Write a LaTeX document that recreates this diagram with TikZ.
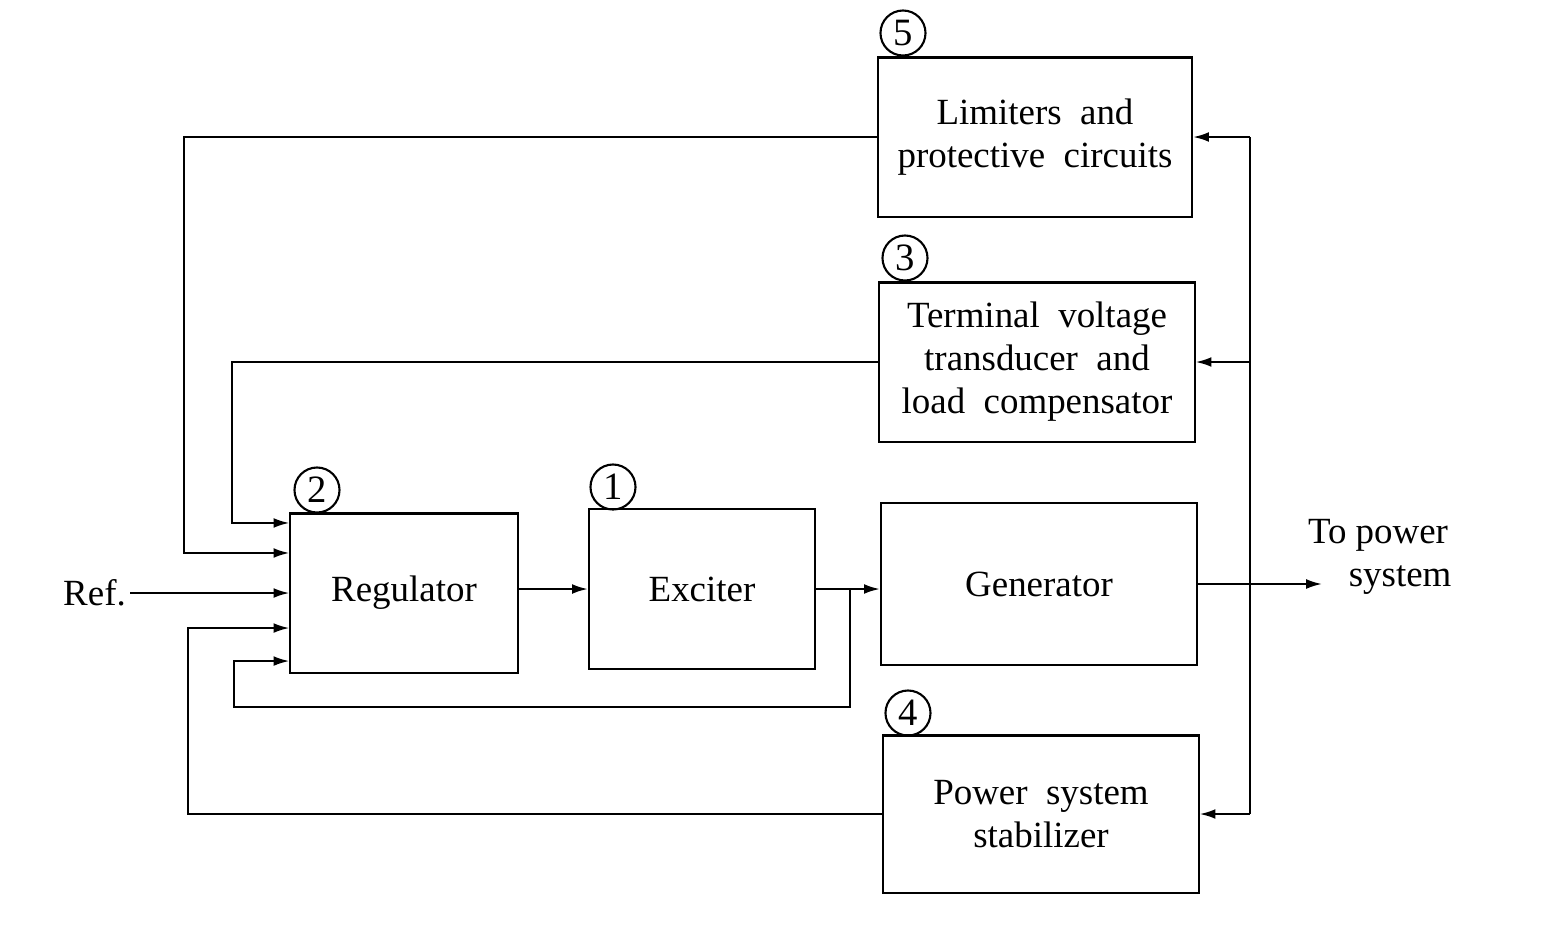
\documentclass[tikz,border=0pt]{standalone}
\usepackage{fontspec}
\setmainfont{Liberation Serif}
\usetikzlibrary{arrows.meta}
\begin{document}
\begin{tikzpicture}[x=0.01cm,y=-0.01cm,
  blk/.style={draw,line width=0.6pt,inner sep=0pt,align=center,font=\fontsize{10.5}{12.2}\selectfont},
  lbl/.style={align=center,font=\fontsize{10.5}{12.2}\selectfont},
  num/.style={draw,circle,line width=0.6pt,inner sep=0pt,minimum size=4.5mm,font=\fontsize{11}{12}\selectfont},
  conn/.style={line width=0.6pt},
  arr/.style={conn,-{Latex[length=4.5pt,width=2.8pt]}}]
\useasboundingbox (0,0) rectangle (1568,944);
% blocks
\node[blk,minimum width=3.14cm,minimum height=1.59cm] (lim) at (1035,137) {Limiters\ \ and\\protective\ \ circuits};
\node[blk,minimum width=3.15cm,minimum height=1.59cm] (term) at (1037,362) {Terminal\ \ voltage\\transducer\ \ and\\load\ \ compensator};
\node[blk,minimum width=2.27cm,minimum height=1.59cm] (reg) at (404,593) {Regulator};
\node[blk,minimum width=2.26cm,minimum height=1.60cm] (exc) at (702,589) {Exciter};
\node[blk,minimum width=3.16cm,minimum height=1.62cm] (gen) at (1039,584) {Generator};
\node[blk,minimum width=3.15cm,minimum height=1.57cm] (pss) at (1041,814) {Power\ \ system\\stabilizer};
% circled numbers
\node[num] (n5) at (903,33) {5};
\node[num] (n3) at (905,258) {3};
\node[num] (n2) at (317,490) {2};
\node[num] (n1) at (613,487) {1};
\node[num] (n4) at (908,713) {4};
% labels
\node[lbl,anchor=east,inner sep=1pt] (ref) at (130,593) {Ref.};
\node[lbl] (tps) at (1378,557) {To power\\\hspace*{1.2em}system};
% helper coordinates
\coordinate (rin1) at ([yshift=7.0mm]reg.west);
\coordinate (rin2) at ([yshift=4.0mm]reg.west);
\coordinate (rin4) at ([yshift=-3.5mm]reg.west);
\coordinate (rin5) at ([yshift=-6.8mm]reg.west);
\coordinate (xA) at (184,0);
\coordinate (xB) at (232,0);
\coordinate (xC) at (188,0);
\coordinate (xD) at (850,0);
\coordinate (xE) at (234,0);
\coordinate (bot) at (0,707);
\coordinate (bus) at (1250,0);
\coordinate (outx) at (1322,0);
% connectors into regulator
\draw[arr] (lim.west) -| (xA |- rin2) -- (rin2);
\draw[arr] (term.west) -| (xB |- rin1) -- (rin1);
\draw[arr] (pss.west) -| (xC |- rin4) -- (rin4);
\draw[arr] (ref.east) -- (ref.east -| reg.west);
% forward path
\draw[arr] (reg.east |- exc.west) -- (exc.west);
\draw[arr] (exc.east) -- (exc.east -| gen.west);
\draw[arr] (gen.east) -- (gen.east -| outx);
% exciter output feedback
\draw[arr] (xD |- exc.east) -- (xD |- bot) -- (xE |- bot) -- (xE |- rin5) -- (rin5);
% bus to limiters, transducer, stabilizer
\draw[conn] (bus |- lim.east) -- (bus |- pss.east);
\draw[arr] (bus |- lim.east) -- (lim.east);
\draw[arr] (bus |- term.east) -- (term.east);
\draw[arr] (bus |- pss.east) -- (pss.east);
\end{tikzpicture}
\end{document}
